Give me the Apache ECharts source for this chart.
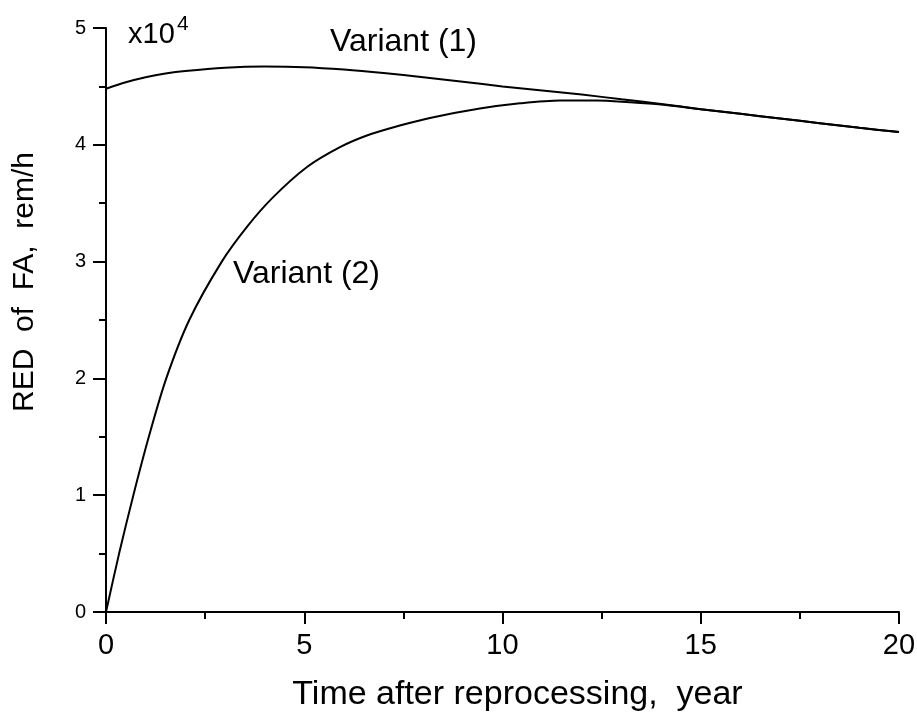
<!DOCTYPE html>
<html>
<head>
<meta charset="utf-8">
<script src="https://cdn.jsdelivr.net/npm/echarts@6/dist/echarts.min.js"></script>
<style>
  html, body { margin: 0; padding: 0; background: #fff; }
  #chart { width: 917px; height: 713px; }
</style>
</head>
<body>
<div id="chart"></div>
<script>
// RED of FA vs time after reprocessing
var time1 = [0, 0.5, 1, 1.5, 2, 3, 4, 5, 6, 7, 8, 9, 10, 11, 12, 13, 14, 15, 16, 17, 18, 19, 20];
var red1 = [4.48, 4.535, 4.578, 4.61, 4.632, 4.66, 4.67, 4.665, 4.645, 4.615, 4.578, 4.54, 4.50, 4.465, 4.43, 4.39, 4.35, 4.305, 4.265, 4.225, 4.185, 4.145, 4.11];

var time2 = [0, 0.33, 0.69, 1.08, 1.52, 2.1, 2.92, 3.56, 4.21, 5.07, 5.9, 6.58, 7.41, 8.17, 9.43, 10.44, 11.45, 12.38, 13.2, 14, 15, 16, 17, 18, 19, 20];
var red2 = [0, 0.5, 1.0, 1.5, 2.0, 2.5, 3.0, 3.3, 3.55, 3.81, 3.98, 4.08, 4.165, 4.23, 4.31, 4.355, 4.38, 4.38, 4.365, 4.345, 4.305, 4.265, 4.225, 4.185, 4.145, 4.11];

var xTicks = [0, 5, 10, 15, 20];
var yTicks = [0, 1, 2, 3, 4, 5];

function pairs(xs, ys) {
    var out = [];
    for (var i = 0; i < xs.length; i++) {
        out.push([xs[i], ys[i]]);
    }
    return out;
}

var font = "'Liberation Sans', Arial, sans-serif";
var chart = echarts.init(document.getElementById('chart'));
var option = {
    animation: false,
    backgroundColor: '#fff',
    grid: {
        left: 106,
        right: 18,
        top: 28,
        bottom: 101,
        outerBoundsMode: 'none'
    },
    xAxis: {
        type: 'value',
        min: xTicks[0],
        max: xTicks[xTicks.length - 1],
        interval: 5,
        name: 'Time after reprocessing,  year',
        nameLocation: 'middle',
        nameGap: 66,
        nameTextStyle: { color: '#000', fontSize: 34, fontFamily: font, padding: [0, 0, 0, 30] },
        axisLine: { lineStyle: { color: '#000', width: 2 } },
        axisTick: { show: true, inside: false, length: 12, lineStyle: { color: '#000', width: 2 } },
        minorTick: { show: true, splitNumber: 2, length: 7, lineStyle: { color: '#000', width: 2 } },
        splitLine: { show: false },
        axisLabel: { color: '#000', fontSize: 29, fontFamily: font, margin: 19 }
    },
    yAxis: {
        type: 'value',
        min: yTicks[0],
        max: yTicks[yTicks.length - 1],
        interval: 1,
        name: 'RED  of  FA,  rem/h',
        nameLocation: 'middle',
        nameGap: 66,
        nameTextStyle: { color: '#000', fontSize: 30, fontFamily: font, padding: [0, 0, 0, 76] },
        axisLine: { show: true, lineStyle: { color: '#000', width: 2 } },
        axisTick: { show: true, inside: false, length: 13, lineStyle: { color: '#000', width: 2 } },
        minorTick: { show: true, splitNumber: 2, length: 7, lineStyle: { color: '#000', width: 2 } },
        splitLine: { show: false },
        axisLabel: { color: '#000', fontSize: 20, fontFamily: font, margin: 20 }
    },
    graphic: [
        { type: 'text', x: 128, y: 35, style: { text: 'x10', font: '29px ' + font, fill: '#000', verticalAlign: 'middle' } },
        { type: 'text', x: 177, y: 24, style: { text: '4', font: '21px ' + font, fill: '#000', verticalAlign: 'middle' } },
        { type: 'text', x: 330, y: 42, style: { text: 'Variant (1)', font: '32px ' + font, fill: '#000', verticalAlign: 'middle' } },
        { type: 'text', x: 233, y: 274, style: { text: 'Variant (2)', font: '32px ' + font, fill: '#000', verticalAlign: 'middle' } }
    ],
    series: [
        {
            name: 'Variant (1)',
            type: 'line',
            data: pairs(time1, red1),
            showSymbol: false,
            smooth: 0.3,
            lineStyle: { color: '#000', width: 2 }
        },
        {
            name: 'Variant (2)',
            type: 'line',
            data: pairs(time2, red2),
            showSymbol: false,
            smooth: 0.3,
            lineStyle: { color: '#000', width: 2 }
        }
    ]
};
chart.setOption(option);
</script>
</body>
</html>
